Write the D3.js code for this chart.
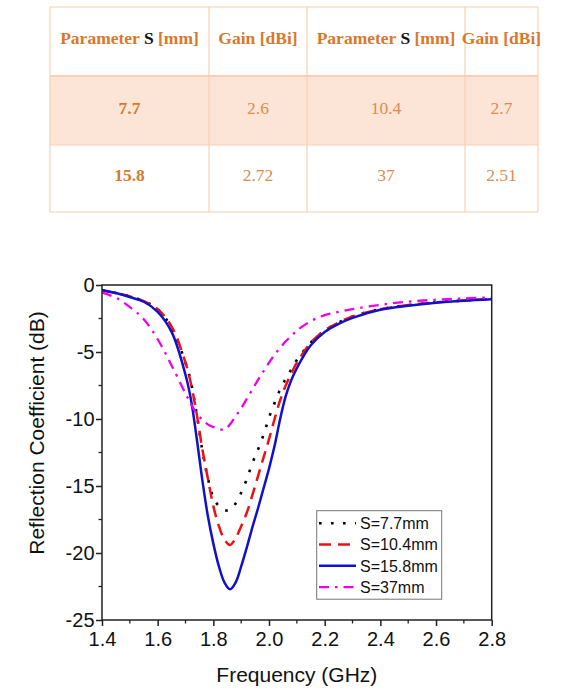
<!DOCTYPE html>
<html>
<head>
<meta charset="utf-8">
<script src="https://cdn.jsdelivr.net/npm/d3@7/dist/d3.min.js"></script>
<style>
html,body{margin:0;padding:0;background:#fff;}
svg{display:block;}
</style>
</head>
<body>
<svg id="chart" width="567" height="694"></svg>
<script>
// ---- Table data ----
const tableHeader = ["Parameter S [mm]", "Gain [dBi]", "Parameter S [mm]", "Gain [dBi]"];
const tableRows = [
  ["7.7", "2.6", "10.4", "2.7"],
  ["15.8", "2.72", "37", "2.51"]
];

// ---- Chart data ----
const freq = [1.40,1.45,1.50,1.55,1.60,1.65,1.70,1.72,1.74,1.76,1.78,1.80,1.82,1.84,1.86,1.88,1.90,1.92,1.94,1.96,1.98,2.00,2.02,2.04,2.06,2.08,2.10,2.15,2.20,2.25,2.30,2.40,2.50,2.60,2.70,2.80];
const s77  = [-0.4,-0.6,-0.85,-1.2,-1.8,-3.2,-5.8,-7.3,-9.6,-12.3,-14.4,-15.85,-16.5,-16.8,-16.8,-16.3,-15.5,-14.5,-13.3,-12.3,-11.2,-9.9,-8.8,-7.8,-7.0,-6.3,-5.6,-4.3,-3.4,-2.8,-2.35,-1.8,-1.5,-1.3,-1.15,-1.05];
const s104 = [-0.4,-0.6,-0.85,-1.2,-1.8,-3.1,-5.8,-7.4,-9.6,-12.2,-14.4,-16.5,-18.0,-19.0,-19.4,-18.9,-18.0,-17.0,-15.7,-14.3,-12.9,-11.5,-10.0,-8.6,-7.5,-6.6,-5.8,-4.3,-3.4,-2.8,-2.35,-1.8,-1.5,-1.3,-1.15,-1.05];
const s158 = [-0.37,-0.6,-0.9,-1.25,-2.0,-3.5,-6.7,-8.6,-11.4,-14.5,-17.2,-19.3,-21.0,-22.2,-22.7,-22.2,-21.0,-19.6,-18.1,-16.7,-15.2,-13.7,-12.0,-10.0,-8.3,-7.1,-6.2,-4.5,-3.5,-2.9,-2.45,-1.85,-1.55,-1.33,-1.18,-1.07];
const s37  = [-0.57,-0.95,-1.65,-2.55,-4.05,-6.0,-8.1,-8.9,-9.6,-10.05,-10.4,-10.6,-10.75,-10.8,-10.4,-9.8,-9.2,-8.5,-7.8,-7.1,-6.45,-5.8,-5.2,-4.7,-4.2,-3.8,-3.4,-2.7,-2.25,-2.0,-1.8,-1.48,-1.24,-1.1,-1.0,-0.92];
const seriesNames = ["S=7.7mm", "S=10.4mm", "S=15.8mm", "S=37mm"];
const xTicks = [1.4,1.6,1.8,2.0,2.2,2.4,2.6,2.8];
const yTicks = [0,-5,-10,-15,-20,-25];

const svg = d3.select("#chart");

// ---- Table ----
const colX = [50, 209, 307, 465, 538];
const rowY = [7, 76, 145, 212];
const tborder = "#f8cfb2";
const tg = svg.append("g");
tg.append("rect").attr("x", colX[0]).attr("y", rowY[1]).attr("width", colX[4]-colX[0]).attr("height", rowY[2]-rowY[1]).attr("fill", "#fce5d6");
rowY.forEach((y,i) => tg.append("line").attr("x1", colX[0]).attr("x2", colX[4]).attr("y1", y).attr("y2", y)
  .attr("stroke", tborder).attr("stroke-width", i===1 ? 2 : 1.2));
colX.forEach(x => tg.append("line").attr("x1", x).attr("x2", x).attr("y1", rowY[0]).attr("y2", rowY[3])
  .attr("stroke", tborder).attr("stroke-width", 1.2));
const tfont = "'Liberation Serif','Times New Roman',serif";
const hdrColor = "#d9782c";
const valColor = "#db8c4f";
tableHeader.forEach((h,i) => {
  const cx = (colX[i]+colX[i+1])/2;
  const t = tg.append("text").attr("x", cx).attr("y", 43.5).attr("text-anchor","middle")
    .attr("font-family", tfont).attr("font-size", 17.5).attr("font-weight","bold").attr("fill", hdrColor);
  const m = h.match(/^(.*?)(\bS\b)(.*)$/);
  if (m) {
    t.append("tspan").text(m[1]);
    t.append("tspan").attr("fill","#111").text(m[2]);
    t.append("tspan").text(m[3]);
  } else t.text(h);
});
const rowBase = [113.5, 180.5];
tableRows.forEach((row,r) => row.forEach((v,i) => {
  tg.append("text").attr("x", (colX[i]+colX[i+1])/2).attr("y", rowBase[r]).attr("text-anchor","middle")
    .attr("font-family", tfont).attr("font-size", 17.5)
    .attr("font-weight", i===0 ? "bold" : "normal")
    .attr("fill", i===0 ? hdrColor : valColor).text(v);
}));

// ---- Chart ----
const L = 102, R = 491.7, T = 285, B = 620;
const x = d3.scaleLinear().domain([1.4, 2.8]).range([L, R]);
const y = d3.scaleLinear().domain([0, -25]).range([T, B]);
const afont = "'Liberation Sans',Arial,sans-serif";
const g = svg.append("g");

const series = [
  {name: seriesNames[0], vals: s77,  color:"#000000", dash:"2.6 9.4", w:2.6},
  {name: seriesNames[1], vals: s104, color:"#ee1111", dash:"12 7", w:2.5},
  {name: seriesNames[2], vals: s158, color:"#1111cc", dash:null, w:2.5},
  {name: seriesNames[3], vals: s37,  color:"#ee00ee", dash:"10 6 2.5 6", w:2.3}
];
const line = d3.line().x(d => x(d[0])).y(d => y(d[1])).curve(d3.curveCatmullRom.alpha(0.5));
svg.append("clipPath").attr("id","pc").append("rect").attr("x",L).attr("y",T-2).attr("width",R-L).attr("height",B-T+2);
series.forEach(s => {
  g.append("path").attr("d", line(freq.map((f,i)=>[f, s.vals[i]])))
    .attr("fill","none").attr("stroke", s.color).attr("stroke-width", s.w)
    .attr("stroke-dasharray", s.dash).attr("clip-path","url(#pc)");
});

// frame
g.append("rect").attr("x",L).attr("y",T).attr("width",R-L).attr("height",B-T)
  .attr("fill","none").attr("stroke","#222").attr("stroke-width",1.5);

// x axis
const xAxis = d3.axisBottom(x).tickValues(xTicks).tickFormat(d3.format(".1f")).tickSize(6).tickPadding(6);
const xa = g.append("g").attr("transform",`translate(0,${B})`).call(xAxis);
xa.select(".domain").remove();
xa.selectAll("line").attr("stroke","#222").attr("stroke-width",1.5);
xa.selectAll("text").attr("font-family",afont).attr("font-size",20).attr("fill","#111");
const xMinor = d3.range(1.5, 2.8, 0.2);
g.selectAll(".xm").data(xMinor).enter().append("line")
  .attr("x1", d=>x(d)).attr("x2", d=>x(d)).attr("y1", B).attr("y2", B+3.5).attr("stroke","#222").attr("stroke-width",1.3);

// y axis
const yAxis = d3.axisLeft(y).tickValues(yTicks).tickFormat(d => String(d)).tickSize(6).tickPadding(1.5);
const ya = g.append("g").attr("transform",`translate(${L},0)`).call(yAxis);
ya.select(".domain").remove();
ya.selectAll("line").attr("stroke","#222").attr("stroke-width",1.5);
ya.selectAll("text").attr("font-family",afont).attr("font-size",20).attr("fill","#111");
const yMinor = [-2.5,-7.5,-12.5,-17.5,-22.5];
g.selectAll(".ym").data(yMinor).enter().append("line")
  .attr("x1", L).attr("x2", L-3.5).attr("y1", d=>y(d)).attr("y2", d=>y(d)).attr("stroke","#222").attr("stroke-width",1.3);

// axis labels
g.append("text").attr("x",(L+R)/2).attr("y",682).attr("text-anchor","middle")
  .attr("font-family",afont).attr("font-size",21).attr("fill","#111").text("Frequency (GHz)");
g.append("text").attr("transform","translate(44,433) rotate(-90)").attr("text-anchor","middle")
  .attr("font-family",afont).attr("font-size",21).attr("fill","#111").text("Reflection Coefficient (dB)");

// legend
const lg = g.append("g");
lg.append("rect").attr("x",316.7).attr("y",510.7).attr("width",125).attr("height",88.5)
  .attr("fill","#fff").attr("stroke","#777").attr("stroke-width",1);
const rowC = [523.3, 544.5, 565.8, 587.2];
series.forEach((s,i) => {
  lg.append("line").attr("x1",319).attr("x2",356).attr("y1",rowC[i]).attr("y2",rowC[i])
    .attr("stroke",s.color).attr("stroke-width",s.w).attr("stroke-dasharray",s.dash);
  lg.append("text").attr("x",360).attr("y",rowC[i]+5.8).attr("font-family",afont).attr("font-size",16)
    .attr("fill","#111").text(s.name);
});
</script>
</body>
</html>
